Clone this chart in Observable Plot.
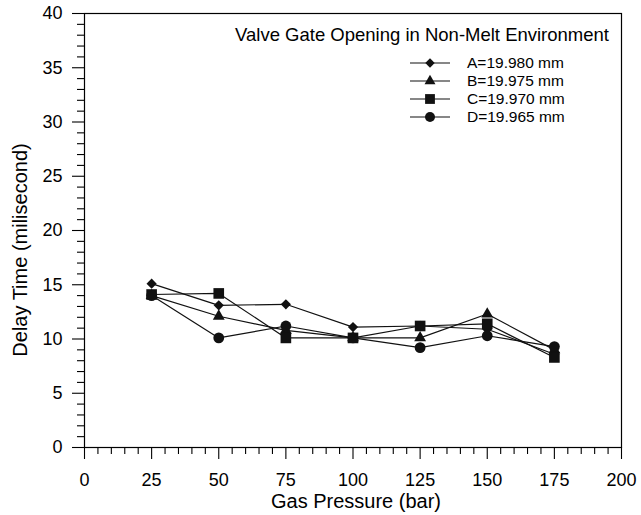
<!DOCTYPE html>
<html>
<head>
<meta charset="utf-8">
<script src="https://cdn.jsdelivr.net/npm/d3@7"></script>
<script src="https://cdn.jsdelivr.net/npm/@observablehq/plot@0.6"></script>
<style>
  html, body { margin: 0; padding: 0; background: #fff; }
  #chart svg { display: block; font-family: "Liberation Sans", Arial, sans-serif; }
</style>
</head>
<body>
<div id="chart"></div>
<script>
const pressure = [25, 50, 75, 100, 125, 150, 175];
const seriesNames = ["A=19.980 mm", "B=19.975 mm", "C=19.970 mm", "D=19.965 mm"];
const seriesA = [15.1, 13.1, 13.2, 11.1, 11.2, 10.9, 8.6];
const seriesB = [14.0, 12.1, 10.8, 10.1, 10.1, 12.3, 9.0];
const seriesC = [14.1, 14.2, 10.1, 10.1, 11.2, 11.4, 8.3];
const seriesD = [14.0, 10.1, 11.2, 10.1, 9.2, 10.3, 9.3];
const xTicks = [0, 25, 50, 75, 100, 125, 150, 175, 200];
const yTicks = [0, 5, 10, 15, 20, 25, 30, 35, 40];
const title = "Valve Gate Opening in Non-Melt Environment";
const xLabel = "Gas Pressure (bar)";
const yLabel = "Delay Time (milisecond)";

const allSeries = [seriesA, seriesB, seriesC, seriesD];
const data = allSeries.flatMap((vals, i) =>
  vals.map((v, j) => ({series: seriesNames[i], x: pressure[j], y: v})));

const symbols = ["diamond2", "triangle", "square", "circle"];
const radii = [4.6, 4.4, 6.0, 5.4];

const xMinor = d3.range(0, 201, 5).filter(v => v % 25 !== 0);
const yMinor = d3.range(0, 41, 1).filter(v => v % 5 !== 0);

const fontTick = 18;
const FONT = "Liberation Sans, Arial, sans-serif";

const plot = Plot.plot({
  width: 641,
  height: 515,
  marginLeft: 84,
  marginRight: 20,
  marginTop: 13,
  marginBottom: 68,
  style: {fontFamily: FONT, background: "#fff", color: "#000"},
  x: {domain: [0, 200]},
  y: {domain: [0, 40]},
  marks: [
    Plot.frame({stroke: "#000", strokeWidth: 1.2}),
    Plot.axisX({ticks: xMinor, tickSize: 7, text: null, label: null, strokeWidth: 1.1}),
    Plot.axisX({ticks: xTicks, tickSize: 12, tickPadding: 14, fontSize: fontTick, strokeWidth: 1.1, label: null}),
    Plot.axisY({ticks: yMinor, tickSize: 7, text: null, label: null, strokeWidth: 1.1}),
    Plot.axisY({ticks: yTicks, tickSize: 12, tickPadding: 10, fontSize: fontTick, strokeWidth: 1.1, label: null}),
    ...seriesNames.map((name, i) =>
      Plot.line(data.filter(d => d.series === name), {x: "x", y: "y", stroke: "#111", strokeWidth: 1.2})),
    ...seriesNames.map((name, i) =>
      Plot.dot(data.filter(d => d.series === name), {x: "x", y: "y", symbol: () => symbols[i], r: radii[i], fill: "#111", stroke: "none"}))
  ]
});

const svg = d3.select(plot);
const txt = svg.append("g").attr("font-family", FONT).attr("fill", "#000");

// axis titles
txt.append("text").attr("x", 356).attr("y", 508).attr("text-anchor", "middle")
  .attr("font-size", 20).text(xLabel);
txt.append("text").attr("transform", "translate(27,250) rotate(-90)").attr("text-anchor", "middle")
  .attr("font-size", 20).text(yLabel);

// legend (inside the frame, top right)
txt.append("text").attr("x", 609).attr("y", 35).attr("text-anchor", "end").attr("dy", "0.35em")
  .attr("font-size", 18.5).text(title);
const rowY = [63, 81, 99, 117];
const symGen = [d3.symbolDiamond2, d3.symbolTriangle, d3.symbolSquare, d3.symbolCircle];
seriesNames.forEach((name, i) => {
  const y = rowY[i];
  txt.append("line").attr("x1", 410).attr("x2", 450).attr("y1", y).attr("y2", y).attr("stroke", "#111").attr("stroke-width", 1.2);
  txt.append("path").attr("transform", `translate(430,${y})`)
    .attr("d", d3.symbol(symGen[i], Math.PI * radii[i] * radii[i] * 0.85)()).attr("fill", "#111");
  txt.append("text").attr("x", 467).attr("y", y).attr("dy", "0.35em").attr("text-anchor", "start")
    .attr("font-size", 15.5).text(name);
});

document.getElementById("chart").appendChild(plot);
</script>
</body>
</html>
